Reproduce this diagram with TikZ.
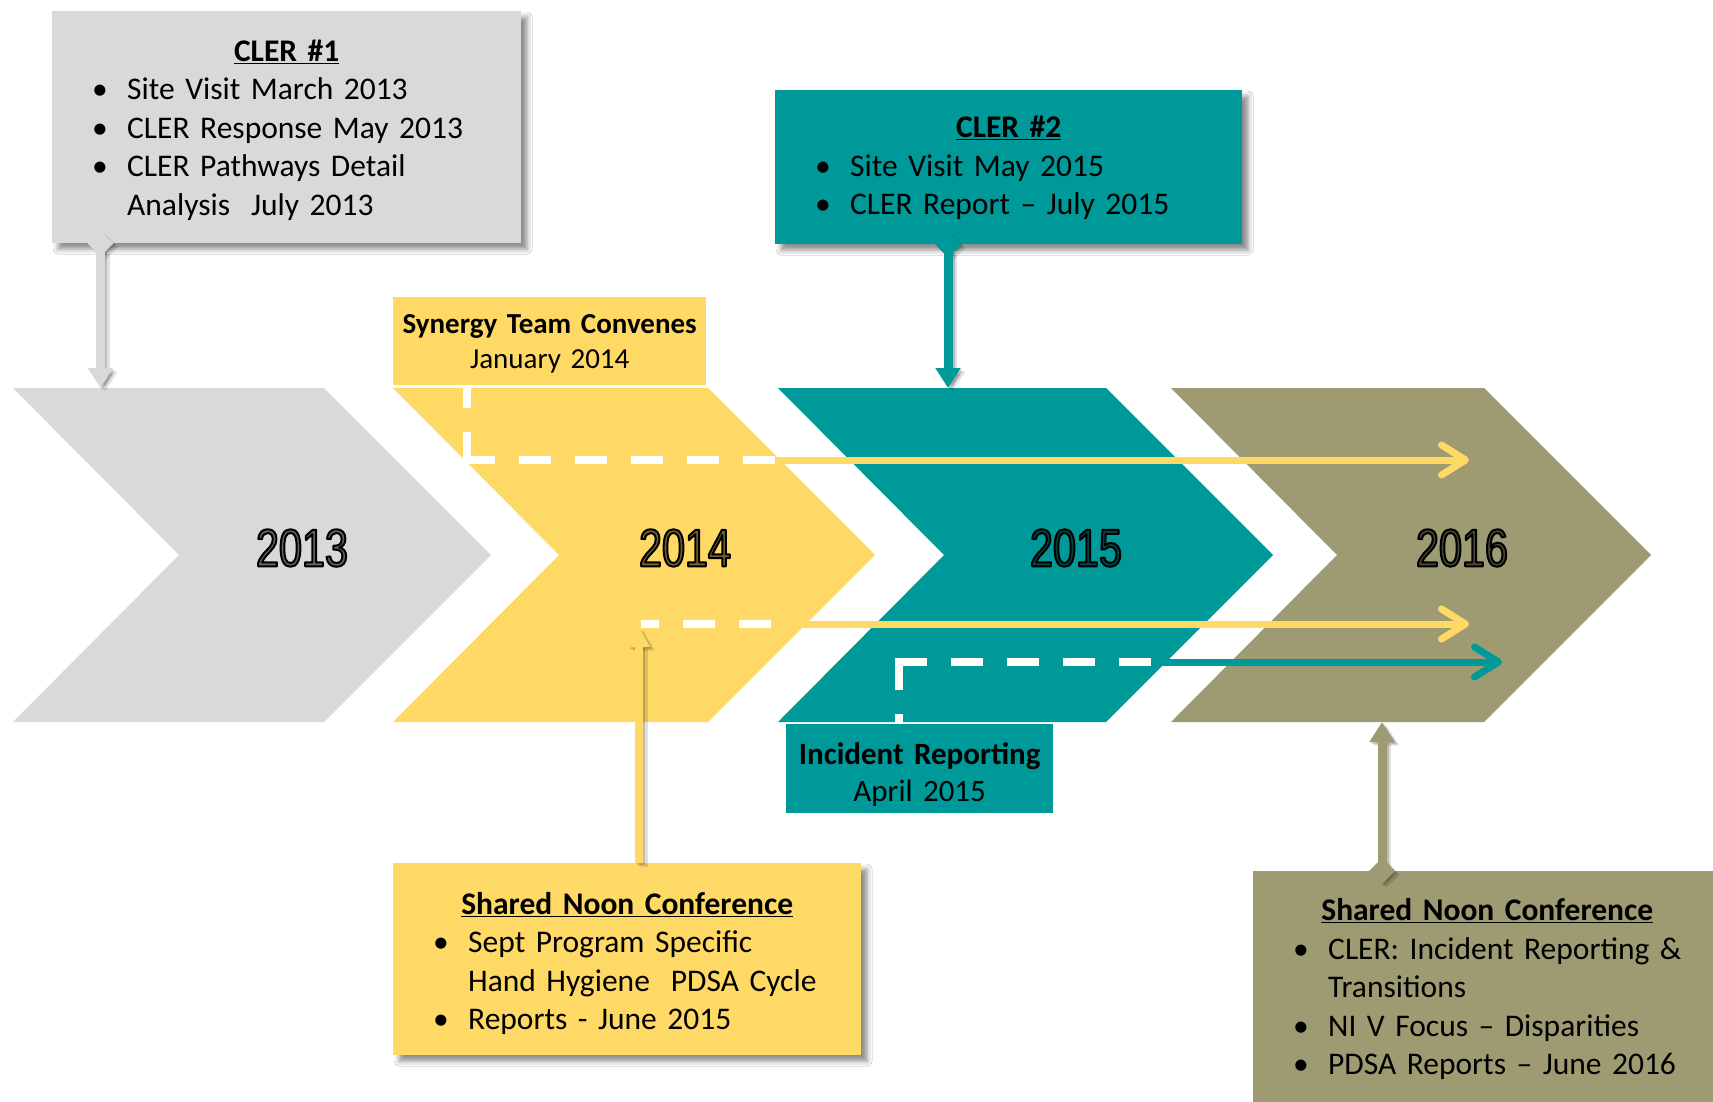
\documentclass[tikz,border=0pt]{standalone}
\usepackage{fontspec}
\setmainfont{Carlito}
\newfontfamily\yearfont[FakeStretch=0.78]{Liberation Sans}
\usetikzlibrary{arrows.meta,calc,shadows.blur}

\definecolor{chgray}{HTML}{D9D9D9}
\definecolor{chgold}{HTML}{FFD966}
\definecolor{chteal}{HTML}{009999}
\definecolor{cholive}{HTML}{9E9B72}

\newcommand\boxfont{\fontsize{31.5}{38.5}\selectfont}
% panel heading: height of the first line, heading text
\newcommand\boxhead[2]{{\centering\rule{0pt}{#1}\underline{\textbf{#2}}\par}}
\newcommand\bitem[1]{\noindent\hangindent=35pt\hangafter=1\makebox[35pt][l]{\textbullet}#1\par}
% one year arrow: colour, left x, top-right x
\newcommand\chevron[3]{\fill[#1] (#2,388) -- (#3,388) -- (#3+167,555) -- (#3,722) -- (#2,722) -- (#2+166,555) -- cycle;}
% year digits: tinted fill with a black outline (fill+stroke text mode)
\newcommand\yearglyphs[2]{{\color{#1!45!black}%
  \special{pdf:literal direct q 2 Tr 2 w 1 j 0 0 0 RG}#2\special{pdf:literal direct Q}}}

\begin{document}
\begin{tikzpicture}[x=1pt,y=-1pt,
  panel/.style 2 args={fill=#1, anchor=north west, inner xsep=40pt, inner ysep=0pt,
    text width=#2, align=left, font=\boxfont},
  tag/.style={anchor=north west, inner sep=0pt, align=center},
  boxshadow/.style={blur shadow={shadow xshift=6pt,shadow yshift=-6pt,shadow blur radius=5pt,shadow opacity=45}},
  feed/.style={draw=#1, line width=9pt,
    {Diamond[length=26pt,width=26pt]}-{Triangle[length=20pt,width=24pt]}, shorten <=-13pt},
  lift/.style={draw=#1, line width=8.5pt, -{Triangle[length=20pt,width=21pt]}},
  shade1/.style={opacity=0.16, transform canvas={shift={(2pt,-2pt)}}},
  shade2/.style={opacity=0.12, transform canvas={shift={(4.5pt,-3.5pt)}}},
  track/.style={draw=#1, line width=7pt, -{Straight Barb[length=24pt,width=30pt,round]}},
  whitedash/.style={draw=white, line width=8pt, dash pattern=on 32pt off 24pt},
  yearlbl/.style={font=\yearfont\fontsize{53}{53}\selectfont, inner sep=0pt},
]
\useasboundingbox (0,0) rectangle (1713,1101);
\fill[white] (0,0) rectangle (1713,1101);

% year arrows
\chevron{chgray}{13}{324}
\chevron{chgold}{393}{708}
\chevron{chteal}{778}{1106}
\chevron{cholive}{1171}{1484}

\node[yearlbl] (yr13) at (302,548) {\yearglyphs{chgray}{2013}};
\node[yearlbl] (yr14) at (685,548) {\yearglyphs{chgold}{2014}};
\node[yearlbl] (yr15) at (1076,548) {\yearglyphs{chteal}{2015}};
\node[yearlbl] (yr16) at (1462,548) {\yearglyphs{cholive}{2016}};

% small labels sitting on the arrows
\node[tag, fill=chgold, minimum width=313pt, minimum height=88pt, text width=313pt,
  font=\fontsize{29}{35}\selectfont] (syn) at (393,297)
  {\rule{0pt}{25pt}\textbf{Synergy Team Convenes}\\January 2014};
\node[tag, fill=chteal, minimum width=267pt, minimum height=89pt, text width=267pt,
  font=\fontsize{31}{37}\selectfont] (inc) at (786,724)
  {\rule{0pt}{34pt}\textbf{Incident Reporting}\\April 2015};

% carry-over tracks
\coordinate (synB) at (467,460);
\coordinate (synEnd) at (1469,460);
\coordinate (synDashEnd) at (777,460);
\coordinate (ncA) at (641,624);
\coordinate (ncEnd) at (1469,624);
\coordinate (ncDashEnd) at (772,624);
\coordinate (irA) at (899,662);
\coordinate (irEnd) at (1502,662);
\coordinate (irDashEnd) at (1160,662);

\draw[track=chgold] (synB) -- (synEnd);
\draw[track=chgold] (ncA) -- (ncEnd);
\draw[track=chteal] (irA) -- (irEnd);
\draw[whitedash] ([yshift=-4pt]synB) -- (syn.south -| synB);
\draw[whitedash] ([xshift=-4pt]synB) -- (synDashEnd);
\draw[whitedash, dash phase=14pt] (ncA) -- (ncDashEnd);
\draw[whitedash] ([yshift=4pt]irA) -- (inc.north -| irA);
\draw[whitedash] ([xshift=-4pt]irA) -- (irDashEnd);

% call-out panels
\node[panel={chgray}{389pt}, minimum width=469pt, minimum height=232pt, boxshadow] (cler1) at (52,11) {%
  \boxhead{27pt}{CLER \#1}
  \bitem{Site Visit March 2013}
  \bitem{CLER Response May 2013}
  \bitem{\mbox{CLER Pathways Detail}\newline\mbox{Analysis\ \ July 2013}}%
};
\node[panel={chteal}{387pt}, minimum width=467pt, minimum height=154pt, boxshadow] (cler2) at (775,90) {%
  \boxhead{23.5pt}{CLER \#2}
  \bitem{Site Visit May 2015}
  \bitem{CLER Report -- July 2015}%
};
\node[panel={chgold}{388pt}, minimum width=468pt, minimum height=192pt, boxshadow] (noon1) at (393,863) {%
  \boxhead{31pt}{Shared Noon Conference}
  \bitem{\mbox{Sept Program Specific}\newline\mbox{Hand Hygiene\ \ PDSA Cycle}}
  \bitem{Reports - June 2015}%
};
\node[panel={cholive}{388pt}, minimum width=468pt, minimum height=236pt, boxshadow] (noon2) at (1253,871) {%
  \boxhead{0pt}{Shared Noon Conference}
  \bitem{\mbox{CLER: Incident Reporting \&}\newline\mbox{Transitions}}
  \bitem{NI V Focus -- Disparities}
  \bitem{PDSA Reports -- June 2016}%
};

% panel connectors, each with a soft shadow underneath
\coordinate (t13) at (100.5,388);
\coordinate (t15) at (948,388);
\coordinate (b14) at (639,627);
\coordinate (b16) at (1382,722);
\foreach \s in {shade2,shade1}{
  \draw[feed=black, \s] (cler1.south -| t13) -- (t13);
  \draw[feed=black, \s] (cler2.south -| t15) -- (t15);
  \draw[lift=black, \s] (noon1.north -| b14) -- (b14);
  \draw[feed=black, \s] (noon2.north -| b16) -- (b16);
}
\draw[feed=chgray] (cler1.south -| t13) -- (t13);
\draw[feed=chteal] (cler2.south -| t15) -- (t15);
\draw[lift=chgold] (noon1.north -| b14) -- (b14);
\draw[feed=cholive] (noon2.north -| b16) -- (b16);
\end{tikzpicture}
\end{document}
